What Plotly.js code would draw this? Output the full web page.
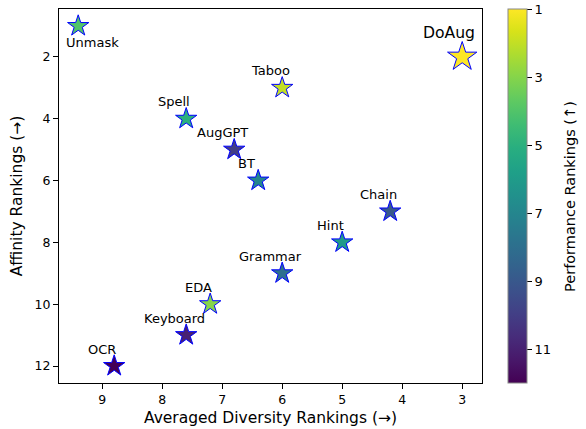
<!DOCTYPE html>
<html>
<head>
<meta charset="utf-8">
<script src="https://cdn.plot.ly/plotly-3.0.1.min.js"></script>
<style>html,body{margin:0;padding:0;background:#fff}#chart{width:586px;height:429px}</style>
</head>
<body>
<div id="chart"></div>
<script>
const methods = ["Unmask","DoAug","Taboo","Spell","AugGPT","BT","Chain","Hint","Grammar","EDA","Keyboard","OCR"];
const diversityRank = [9.4, 3.0, 6.0, 7.6, 6.8, 6.4, 4.2, 5.0, 6.0, 7.2, 7.6, 8.8];
const affinityRank = [1, 2, 3, 4, 5, 6, 7, 8, 9, 10, 11, 12];
const performanceRank = [4, 1, 2, 5, 10, 7, 9, 6, 8, 3, 11, 12];
const cbTicks = [1, 3, 5, 7, 9, 11];

const font = "DejaVu Sans, sans-serif";

const trace = {
  type: "scatter",
  mode: "markers",
  x: diversityRank,
  y: affinityRank,
  text: methods,
  marker: {
    symbol: "star",
    opacity: 1,
    size: methods.map(m => m === "DoAug" ? 22 : 16),
    color: performanceRank.map(v => -v),
    colorscale: "Viridis",
    cmin: -12,
    cmax: -1,
    line: {color: "#0000ff", width: 1},
    colorbar: {
      x: 1.061, xanchor: "left", xpad: 0,
      y: 0.5, yanchor: "middle", len: 1, lenmode: "fraction", ypad: 0,
      thickness: 19,
      outlinewidth: 1, outlinecolor: "#888",
      tickvals: cbTicks.map(v => -v),
      ticktext: cbTicks.map(String),
      ticks: "outside", ticklen: 5, tickcolor: "#000",
      tickfont: {family: font, size: 13, color: "#000"},
      title: {text: ""}
    }
  },
  hoverinfo: "skip",
  showlegend: false
};

const annotations = methods.map((m, i) => {
  let xs = -12, ys = 17, sz = 13;
  if (m === "Unmask") { xs = 14; ys = -16; }
  if (m === "DoAug") { xs = -13; ys = 24; sz = 15.6; }
  return {
    x: diversityRank[i], y: affinityRank[i], xref: "x", yref: "y",
    text: m, showarrow: false, xshift: xs, yshift: ys,
    xanchor: "center", yanchor: "middle",
    font: {family: font, size: sz, color: "#000"}
  };
});
annotations.push({
  x: 1.208, y: 0.5, xref: "paper", yref: "paper",
  text: "Performance Rankings (↑)", textangle: -90, showarrow: false,
  xanchor: "center", yanchor: "middle",
  font: {family: font, size: 14.5, color: "#000"}
});

const axisCommon = {
  showgrid: false, zeroline: false,
  showline: true, mirror: true, linecolor: "#000", linewidth: 1,
  ticks: "outside", ticklen: 5, tickcolor: "#000",
  tickfont: {family: font, size: 12.5, color: "#000"}
};

const layout = {
  width: 586, height: 429,
  margin: {l: 59, r: 104, t: 9, b: 46},
  paper_bgcolor: "#fff", plot_bgcolor: "#fff",
  font: {family: font, color: "#000"},
  xaxis: Object.assign({}, axisCommon, {
    range: [9.72, 2.67], tickvals: [9,8,7,6,5,4,3],
    title: {text: "Averaged Diversity Rankings (→)", font: {family: font, size: 15.5, color: "#000"}, standoff: 6}
  }),
  yaxis: Object.assign({}, axisCommon, {
    range: [12.55, 0.45], tickvals: [2,4,6,8,10,12],
    title: {text: "Affinity Rankings (→)", font: {family: font, size: 15.5, color: "#000"}, standoff: 8}
  }),
  annotations: annotations
};

Plotly.newPlot("chart", [trace], layout, {displayModeBar: false, staticPlot: true});
</script>
</body>
</html>
